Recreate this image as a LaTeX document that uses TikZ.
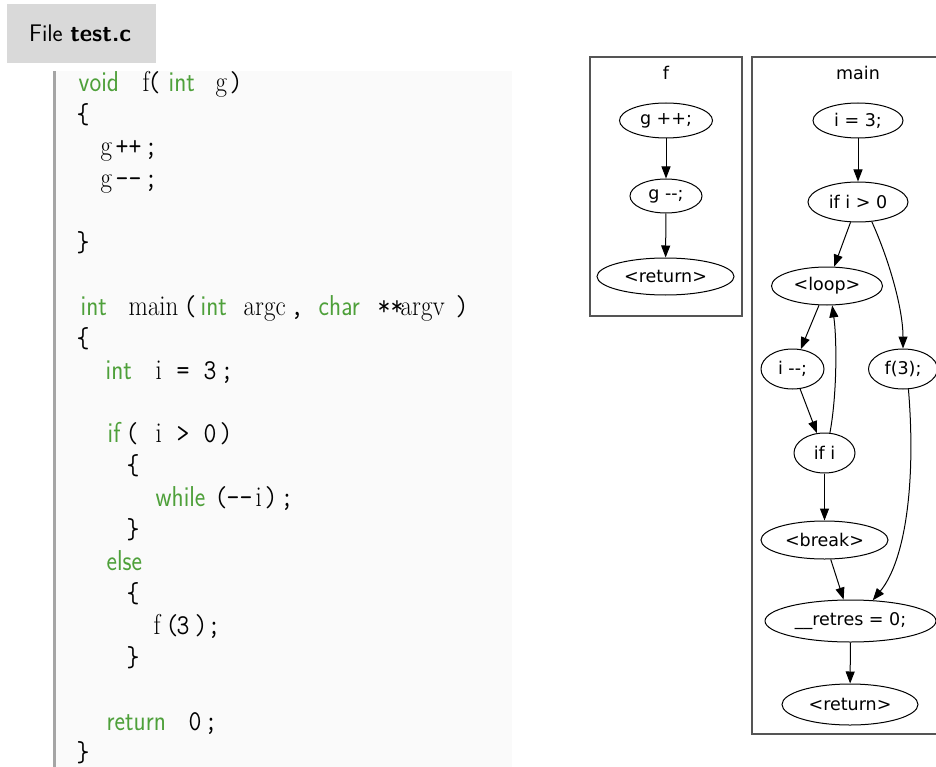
\documentclass[tikz,border=0pt]{standalone}
\usepackage{fontspec}
\usetikzlibrary{shapes.geometric,arrows.meta}
\newfontfamily\gvfont{DejaVu Sans}
\definecolor{kwgreen}{RGB}{78,160,58}
\definecolor{codebg}{RGB}{250,250,250}
\definecolor{hdrbg}{RGB}{217,217,217}
\definecolor{barcol}{RGB}{165,165,165}
\definecolor{clcol}{RGB}{85,85,85}
\newcommand\tokat[2]{\rlap{\hspace*{#1pt}#2}}
\newcommand\kw[1]{{\sffamily\color{kwgreen}#1}}
\newcommand\pu[1]{{\ttfamily #1}}
\newcommand\codetall[1]{\scalebox{1}[1.15]{#1}}
\tikzset{
  codeline/.style={inner sep=0pt, anchor=base west, font=\fontsize{25}{30}\selectfont},
  gvnode/.style={draw=black, line width=1pt, ellipse, inner sep=0pt, font=\gvfont\fontsize{17.5}{20}\selectfont},
  gvedge/.style={draw=black, line width=1pt, -{Triangle[length=12pt,width=9pt]}},
  cluster/.style={draw=clcol, line width=1.4pt},
  cllabel/.style={font=\gvfont\fontsize{17.5}{20}\selectfont, inner sep=0pt}
}
\begin{document}
\begin{tikzpicture}[x=1pt,y=-1pt]
\useasboundingbox (0,0) rectangle (936,767);
% header
\fill[hdrbg] (7,4) rectangle (156,63);
\node[inner sep=0pt, anchor=base west, font=\sffamily\fontsize{24}{28}\selectfont] (hdr) at (29,42) {File \textbf{test.c}};
% code area
\fill[codebg] (56,71) rectangle (512,767);
\fill[barcol] (53,71) rectangle (56,767);
\node[codeline] (l0) at (0,92) {\codetall{\tokat{78}{\kw{void}}\tokat{142}{f}\tokat{147}{\pu{(}}\tokat{168}{\kw{int}}\tokat{215}{g}\tokat{229}{\pu{)}}}};
\node[codeline] (l1) at (0,123.9) {\codetall{\tokat{76}{\pu{\{}}}};
\node[codeline] (l2) at (0,155.8) {\codetall{\tokat{100}{g}\tokat{115}{\pu{++}}\tokat{144}{\pu{;}}}};
\node[codeline] (l3) at (0,187.7) {\codetall{\tokat{100}{g}\tokat{115}{\pu{-{}-}}\tokat{144}{\pu{;}}}};
\node[codeline] (l5) at (0,251.5) {\codetall{\tokat{76}{\pu{\}}}}};
\node[codeline] (l7) at (0,315.3) {\codetall{\tokat{80}{\kw{int}}\tokat{128}{main}\tokat{183}{\pu{(}}\tokat{200}{\kw{int}}\tokat{243}{argc}\tokat{290}{\pu{,}}\tokat{318}{\kw{char}}\tokat{377}{\pu{**}}\tokat{400}{argv}\tokat{455}{\pu{)}}}};
\node[codeline] (l8) at (0,347.2) {\codetall{\tokat{76}{\pu{\{}}}};
\node[codeline] (l9) at (0,379.1) {\codetall{\tokat{105}{\kw{int}}\tokat{155}{i}\tokat{176}{\pu{=}}\tokat{203}{\pu{3}}\tokat{220}{\pu{;}}}};
\node[codeline] (l11) at (0,442.9) {\codetall{\tokat{107}{\kw{if}}\tokat{125}{\pu{(}}\tokat{155}{i}\tokat{176}{\pu{>}}\tokat{203}{\pu{0}}\tokat{219}{\pu{)}}}};
\node[codeline] (l12) at (0,474.8) {\codetall{\tokat{126}{\pu{\{}}}};
\node[codeline] (l13) at (0,506.7) {\codetall{\tokat{155}{\kw{while}}\tokat{214}{\pu{(}}\tokat{226}{\pu{-{}-}}\tokat{255}{i}\tokat{264}{\pu{)}}\tokat{280}{\pu{;}}}};
\node[codeline] (l14) at (0,538.6) {\codetall{\tokat{126}{\pu{\}}}}};
\node[codeline] (l15) at (0,570.5) {\codetall{\tokat{106}{\kw{else}}}};
\node[codeline] (l16) at (0,602.4) {\codetall{\tokat{126}{\pu{\{}}}};
\node[codeline] (l17) at (0,634.3) {\codetall{\tokat{153}{f}\tokat{165}{\pu{(}}\tokat{176}{\pu{3}}\tokat{194}{\pu{)}}\tokat{207}{\pu{;}}}};
\node[codeline] (l18) at (0,666.2) {\codetall{\tokat{126}{\pu{\}}}}};
\node[codeline] (l20) at (0,730) {\codetall{\tokat{106}{\kw{return}}\tokat{188}{\pu{0}}\tokat{204}{\pu{;}}}};
\node[codeline] (l21) at (0,761.9) {\codetall{\tokat{76}{\pu{\}}}}};
% cluster f
\draw[cluster] (590,57) rectangle (742,316);
\node[cllabel] (fl) at (666,73) {f};
\node[gvnode, minimum width=93pt, minimum height=35pt] (gpp) at (666,120.5) {g ++;};
\node[gvnode, minimum width=72pt, minimum height=34pt] (gmm) at (666,196) {g -{}-;};
\node[gvnode, minimum width=137pt, minimum height=37pt] (fret) at (665.5,276.5) {<return>};
\draw[gvedge] (gpp) -- (gmm);
\draw[gvedge] (gmm) -- (fret);
% cluster main
\draw[cluster] (936,57) -- (752,57) -- (752,734) -- (936,734);
\node[cllabel] (ml) at (858,73) {main};
\node[gvnode, minimum width=90pt, minimum height=35pt] (i3) at (858,120.5) {i = 3;};
\node[gvnode, minimum width=100pt, minimum height=40pt] (ifgt) at (858,202) {if i > 0};
\node[gvnode, minimum width=111pt, minimum height=38pt] (loop) at (827,286) {<loop>};
\node[gvnode, minimum width=63pt, minimum height=40pt] (imm) at (792.5,369) {i -{}-;};
\node[gvnode, minimum width=69pt, minimum height=40pt] (f3) at (903,369) {f(3);};
\node[gvnode, minimum width=61pt, minimum height=40pt] (ifi) at (824.5,453) {if i};
\node[gvnode, minimum width=127pt, minimum height=38pt] (brk) at (824.5,540) {<break>};
\node[gvnode, minimum width=171pt, minimum height=42pt] (retres) at (850.5,621) {\_\_retres = 0;};
\node[gvnode, minimum width=136pt, minimum height=41pt] (mret) at (850,704.5) {<return>};
\draw[gvedge] (i3) -- (ifgt);
\draw[gvedge] (ifgt) -- (loop);
\draw[gvedge] (ifgt.-55) .. controls (890,262) and (903,310) .. (f3.north);
\draw[gvedge] (loop) -- (imm);
\draw[gvedge] (imm) -- (ifi);
\draw[gvedge] (ifi.75) .. controls (837,395) and (837,340) .. (loop.-75);
\draw[gvedge] (ifi) -- (brk);
\draw[gvedge] (brk) -- (retres);
\draw[gvedge] (f3.-75) .. controls (916,480) and (906,560) .. (retres.43);
\draw[gvedge] (retres) -- (mret);
\end{tikzpicture}
\end{document}
